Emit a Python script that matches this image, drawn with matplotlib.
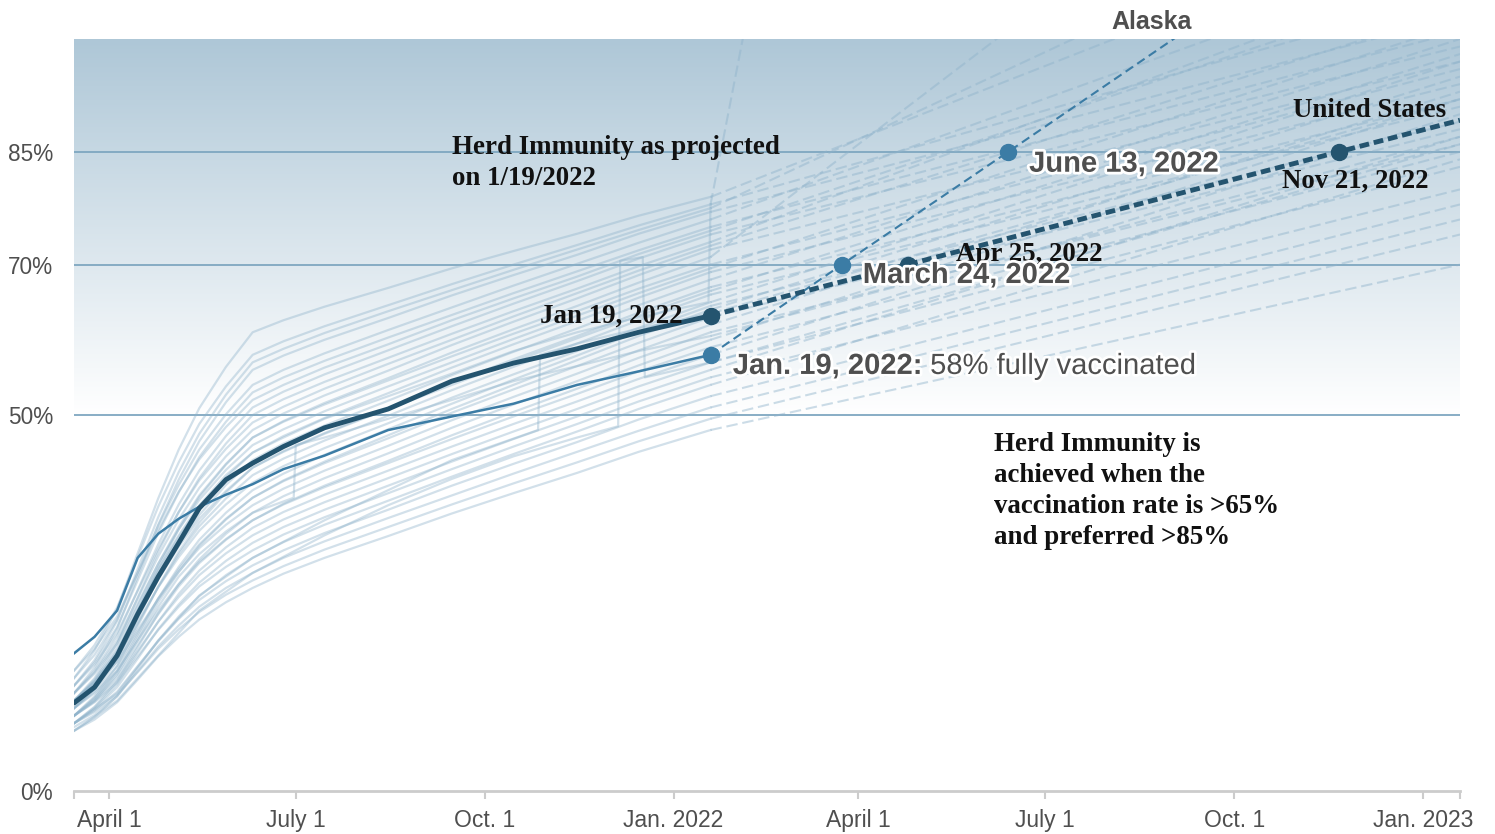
# Vaccination progress by state with linear projections to herd immunity

import numpy as np
import matplotlib.pyplot as plt
import matplotlib.dates as mdates
import matplotlib.patheffects as pe
from matplotlib.colors import LinearSegmentedColormap
from datetime import datetime

plt.rcParams['font.family'] = ['Liberation Sans', 'DejaVu Sans']

# ---- data (percent fully vaccinated) ----
anchor_dates = ["2021-03-15", "2021-03-25", "2021-04-05", "2021-04-15", "2021-04-25",
                "2021-05-05", "2021-05-15", "2021-05-28", "2021-06-10", "2021-06-25",
                "2021-07-15", "2021-08-15", "2021-09-15", "2021-10-15", "2021-11-15",
                "2021-12-15", "2022-01-19"]

us_values = [11.7, 13.8, 18, 23.5, 28.5, 33, 37.6, 41.4, 43.6, 45.8, 48.3, 50.8, 54.5,
             56.9, 58.8, 61, 63.2]
alaska_values = [18.3, 20.5, 24, 31, 34.2, 36.2, 37.8, 39.4, 40.8, 42.8, 44.6, 48,
                 49.8, 51.5, 54, 55.8, 58]

state_curves = [
    [15, 18.7, 24.2, 31.6, 38.9, 45.4, 50.9, 56.4, 61, 62.6, 64.4, 66.9, 69.5, 71.8, 74.1, 76.5, 79],
    [16, 19.4, 24.4, 31.1, 37.8, 43.7, 48.8, 53.8, 58, 59.8, 61.8, 64.6, 67.4, 70, 72.6, 75.2, 78],
    [14, 17.4, 22.6, 29.5, 36.4, 42.4, 47.5, 52.7, 57, 58.8, 60.9, 63.8, 66.6, 69.3, 72, 74.6, 77.5],
    [13, 16.4, 21.6, 28.5, 35.4, 41.4, 46.5, 51.7, 56, 57.9, 60, 62.9, 65.9, 68.6, 71.3, 74.1, 77],
    [15, 18.1, 22.8, 29, 35.3, 40.7, 45.4, 50.1, 54, 56, 58.2, 61.3, 64.3, 67.2, 70.1, 72.9, 76],
    [14, 17.1, 21.8, 28, 34.3, 39.7, 44.4, 49.1, 53, 55, 57.2, 60.3, 63.3, 66.2, 69.1, 71.9, 75],
    [16, 18.9, 23.2, 29, 34.7, 39.8, 44.1, 48.4, 52, 54, 56.3, 59.4, 62.6, 65.5, 68.4, 71.4, 74.5],
    [13, 16, 20.6, 26.7, 32.8, 38.1, 42.6, 47.2, 51, 53.1, 55.4, 58.6, 61.8, 64.8, 67.8, 70.8, 74],
    [12, 15, 19.6, 25.7, 31.8, 37.1, 41.6, 46.2, 50, 52.1, 54.4, 57.6, 60.8, 63.8, 66.8, 69.8, 73],
    [14, 16.8, 21, 26.6, 32.2, 37.1, 41.3, 45.5, 49, 51.1, 53.5, 56.8, 60, 63.1, 66.2, 69.2, 72.5],
    [13, 15.8, 20, 25.6, 31.2, 36.1, 40.3, 44.5, 48, 50.2, 52.6, 55.9, 59.3, 62.4, 65.5, 68.6, 72],
    [12, 14.8, 19, 24.6, 30.2, 35.1, 39.3, 43.5, 47, 49.2, 51.6, 54.9, 58.3, 61.4, 64.5, 67.6, 71],
    [11, 13.9, 18.2, 24, 29.7, 34.8, 39.1, 43.4, 47, 49.1, 51.4, 54.6, 57.8, 60.8, 63.8, 66.8, 70],
    [13, 15.6, 19.6, 24.9, 30.2, 34.8, 38.7, 42.7, 46, 48.1, 50.5, 53.8, 57, 60.1, 63.2, 66.2, 69.5],
    [12, 14.6, 18.6, 23.9, 29.2, 33.8, 37.7, 41.7, 45, 47.2, 49.6, 52.9, 56.3, 59.4, 62.5, 65.6, 69],
    [11, 13.6, 17.6, 22.9, 28.2, 32.8, 36.7, 40.7, 44, 46.2, 48.6, 51.9, 55.3, 58.4, 61.5, 64.6, 68],
    [12, 14.5, 18.2, 23.2, 28.1, 32.5, 36.2, 39.9, 43, 45.2, 47.6, 50.9, 54.3, 57.4, 60.5, 63.6, 67],
    [10, 12.6, 16.6, 21.9, 27.2, 31.8, 35.7, 39.7, 43, 45.1, 47.5, 50.8, 54, 57.1, 60.2, 63.2, 66.5],
    [11, 13.5, 17.2, 22.2, 27.1, 31.5, 35.2, 38.9, 42, 44.2, 46.6, 49.9, 53.3, 56.4, 59.5, 62.6, 66],
    [12, 14.3, 17.8, 22.4, 27.1, 31.1, 34.6, 38.1, 41, 43.2, 45.6, 48.9, 52.3, 55.4, 58.5, 61.6, 65],
    [10, 12.4, 16, 20.8, 25.6, 29.8, 33.4, 37, 40, 42.2, 44.7, 48.1, 51.5, 54.7, 57.9, 61.1, 64.5],
    [11, 13.2, 16.6, 21.1, 25.6, 29.5, 32.8, 36.2, 39, 41.3, 43.8, 47.3, 50.8, 54, 57.3, 60.5, 64],
    [10, 12.3, 15.8, 20.4, 25.1, 29.1, 32.6, 36.1, 39, 41.2, 43.6, 46.9, 50.3, 53.4, 56.5, 59.6, 63],
    [12, 14.1, 17.2, 21.4, 25.5, 29.2, 32.3, 35.4, 38, 40.2, 42.6, 45.9, 49.3, 52.4, 55.5, 58.6, 62],
    [9, 11.2, 14.6, 19.1, 23.6, 27.5, 30.8, 34.2, 37, 39.2, 41.6, 44.9, 48.3, 51.4, 54.5, 57.6, 61],
    [10, 12.1, 15.2, 19.4, 23.5, 27.2, 30.3, 33.4, 36, 38.2, 40.6, 43.9, 47.3, 50.4, 53.5, 56.6, 60],
    [11, 13, 16, 20, 24, 27.5, 30.5, 33.5, 36, 38.1, 40.4, 43.6, 46.8, 49.8, 52.8, 55.8, 59],
    [9, 11.1, 14.2, 18.4, 22.5, 26.2, 29.3, 32.4, 35, 37.1, 39.4, 42.6, 45.8, 48.8, 51.8, 54.8, 58],
    [10, 11.9, 14.8, 18.6, 22.5, 25.8, 28.7, 31.6, 34, 36.1, 38.4, 41.6, 44.8, 47.8, 50.8, 53.8, 57],
    [9, 10.9, 13.8, 17.6, 21.5, 24.8, 27.7, 30.6, 33, 35.1, 37.4, 40.6, 43.8, 46.8, 49.8, 52.8, 56],
    [10, 11.8, 14.4, 17.9, 21.4, 24.5, 27.2, 29.8, 32, 34.1, 36.4, 39.6, 42.8, 45.8, 48.8, 51.8, 55],
    [8, 9.8, 12.6, 16.3, 20, 23.2, 25.9, 28.7, 31, 33.1, 35.4, 38.6, 41.8, 44.8, 47.8, 50.8, 54],
    [9, 10.7, 13.2, 16.6, 19.9, 22.9, 25.4, 27.9, 30, 32, 34.3, 37.4, 40.6, 43.5, 46.4, 49.4, 52.5],
    [8.5, 10.1, 12.6, 15.9, 19.2, 22, 24.5, 27, 29, 31, 33.2, 36.3, 39.3, 42.2, 45.1, 47.9, 51],
    [9, 10.5, 12.8, 15.8, 18.9, 21.5, 23.8, 26.1, 28, 29.9, 32.1, 35.1, 38.1, 40.9, 43.7, 46.5, 49.5],
    [8, 9.5, 11.8, 14.8, 17.9, 20.5, 22.8, 25.1, 27, 28.9, 31, 33.9, 36.9, 39.6, 42.3, 45.1, 48],
]

# projected value on Jan 19, 2023 for each state above
state_proj_end = [118, 106, 124, 103, 112, 101, 108, 99, 110, 104, 97, 147, 96, 102, 94,
                  100, 92, 98, 91, 97, 89, 95, 88, 93, 86, 92, 85, 90, 83, 87, 80, 84,
                  78, 76, 74, 70]

# states whose reported numbers jumped
step_dates = [
    ["2021-03-15", "2021-03-25", "2021-04-05", "2021-04-15", "2021-04-25", "2021-05-05",
     "2021-05-15", "2021-05-28", "2021-06-10", "2021-06-30", "2021-07-01", "2021-07-15",
     "2021-08-15", "2021-09-15", "2021-10-15", "2021-11-15", "2021-12-15", "2022-01-19"],
    ["2021-03-15", "2021-03-25", "2021-04-05", "2021-04-15", "2021-04-25", "2021-05-05",
     "2021-05-15", "2021-05-28", "2021-06-10", "2021-06-25", "2021-07-15", "2021-08-15",
     "2021-09-15", "2021-10-15", "2021-11-15", "2021-12-15", "2022-01-18", "2022-01-19"],
    ["2021-03-15", "2021-04-05", "2021-04-25", "2021-05-15", "2021-06-10", "2021-07-15",
     "2021-08-15", "2021-09-15", "2021-10-27", "2021-10-28", "2021-11-15", "2021-12-15",
     "2022-01-19"],
    ["2021-03-15", "2021-04-05", "2021-04-25", "2021-05-15", "2021-06-10", "2021-07-15",
     "2021-08-15", "2021-09-15", "2021-10-15", "2021-11-15", "2021-12-05", "2021-12-06",
     "2021-12-17", "2021-12-18", "2022-01-19"],
]
step_values = [
    [10, 12, 15.5, 20, 24.5, 28.5, 31.5, 34.5, 37, 39, 46, 47, 49.5, 52, 54.5, 56.5, 58.5, 60.5],
    [12, 14.5, 18.5, 24, 29.5, 34, 38, 42, 45, 47, 49.5, 52.5, 55.5, 58.5, 61, 63, 65, 78],
    [9, 13, 20, 26, 31, 36, 40, 44, 48, 58, 59.5, 61.5, 63.5],
    [8, 12, 18, 24, 29, 34, 38, 41.5, 44.5, 47, 48.5, 70.5, 71, 55, 57],
]
step_proj_end = [87, 590, 92, 86]

proj_end_date = "2023-01-19"
us_proj_dates = ["2022-01-19", "2022-04-25", "2022-11-21", "2023-01-19"]
us_proj_values = [63.2, 70, 85, 89.2]
alaska_proj_dates = ["2022-01-19", "2022-03-24", "2022-06-13", "2023-01-19"]
alaska_proj_values = [58, 70, 85, 126]

herd_levels = [50, 70, 85]
y_ticks = [0, 50, 70, 85]
x_tick_dates = ["2021-03-15", "2021-04-01", "2021-07-01", "2021-10-01", "2022-01-01",
                "2022-04-01", "2022-07-01", "2022-10-01", "2023-01-01", "2023-01-19"]
x_tick_labels = ["", "April 1", "July 1", "Oct. 1", "Jan. 2022",
                 "April 1", "July 1", "Oct. 1", "Jan. 2023", ""]


def d(s):
    return datetime.strptime(s, "%Y-%m-%d")


def ds(lst):
    return [d(s) for s in lst]


# ---- colours ----
dark = '#24546f'
mid = '#3b7ca5'
light = '#8fb3cb'
grid_col = '#7fa7c0'
gray = '#4f4f4f'

fig = plt.figure(figsize=(14.95, 8.34), dpi=100)
ax = fig.add_axes([74 / 1495, 1 - 791 / 834, (1460 - 74) / 1495, (791 - 39) / 834])

x0, x1 = d("2021-03-15"), d("2023-01-19")

# background gradient above 50%
cmap = LinearSegmentedColormap.from_list('bg', ['#ffffff', '#aec7d7'])
grad = np.linspace(0, 1, 256).reshape(-1, 1)
ax.imshow(grad, extent=[mdates.date2num(x0), mdates.date2num(x1), 50, 100],
          origin='lower', aspect='auto', cmap=cmap, zorder=0)

for lvl in herd_levels:
    ax.axhline(lvl, color=grid_col, lw=1.3, zorder=1)

# state lines
for vals, end in zip(state_curves, state_proj_end):
    ax.plot(ds(anchor_dates), vals, color=light, lw=1.6, alpha=0.4, zorder=2)
    ax.plot([d(anchor_dates[-1]), d(proj_end_date)], [vals[-1], end], color=light,
            lw=1.5, alpha=0.45, dashes=(5.5, 2.3), zorder=2)

for dts, vals, end in zip(step_dates, step_values, step_proj_end):
    ax.plot(ds(dts), vals, color=light, lw=1.6, alpha=0.4, zorder=2)
    ax.plot([d(dts[-1]), d(proj_end_date)], [vals[-1], end], color=light,
            lw=1.5, alpha=0.45, dashes=(5.5, 2.3), zorder=2)

# Alaska
ax.plot(ds(anchor_dates), alaska_values, color=mid, lw=1.8, zorder=4)
ax.plot(ds(alaska_proj_dates), alaska_proj_values, color=mid, lw=1.5,
        dashes=(4.3, 2.4), zorder=4)
ax.plot(ds(alaska_proj_dates[:3]), alaska_proj_values[:3], 'o', color=mid,
        markersize=11.5, zorder=6)

# United States
ax.plot(ds(anchor_dates), us_values, color=dark, lw=3.5, zorder=5,
        solid_capstyle='round', solid_joinstyle='round')
ax.plot(ds(us_proj_dates), us_proj_values, color=dark, lw=3.5, dashes=(2, 1), zorder=5)
ax.plot(ds(us_proj_dates[:3]), us_proj_values[:3], 'o', color=dark,
        markersize=11.5, zorder=6)

ax.set_xlim(x0, x1)
ax.set_ylim(0, 100)

# axes styling
for s in ['top', 'right', 'left']:
    ax.spines[s].set_visible(False)
ax.spines['bottom'].set_color('#cccccc')
ax.spines['bottom'].set_linewidth(2)
ax.set_yticks(y_ticks)
ax.set_yticklabels([f"{v}%" for v in y_ticks])
ax.tick_params(axis='y', length=0, pad=15, labelsize=16.3, labelcolor=gray)
ax.set_xticks(ds(x_tick_dates))
ax.set_xticklabels(x_tick_labels)
ax.tick_params(axis='x', length=6, width=1.5, color='#cccccc', pad=7,
               labelsize=16.5, labelcolor=gray)

# ---- annotations ----
serif = dict(family=['Liberation Serif', 'DejaVu Serif'], fontweight='bold',
             color='#111111', fontsize=19.4)
halo = [pe.withStroke(linewidth=4, foreground='white')]

ax.text(d("2021-09-15"), 83.5, "Herd Immunity as projected\non 1/19/2022",
        ha='left', va='center', linespacing=1.28, zorder=7, **serif)
ax.text(d("2022-06-06"), 39.9,
        "Herd Immunity is\nachieved when the\nvaccination rate is >65%\nand preferred >85%",
        ha='left', va='center', linespacing=1.32, zorder=7, **serif)

ax.annotate("Jan 19, 2022", xy=(d(us_proj_dates[0]), us_proj_values[0]),
            xytext=(-20, 0), textcoords='offset points', ha='right', va='center',
            zorder=7, **serif)
ax.annotate("Apr 25, 2022", xy=(d(us_proj_dates[1]), us_proj_values[1]),
            xytext=(34.5, 7), textcoords='offset points', ha='left', va='center',
            zorder=7, **serif)
ax.annotate("Nov 21, 2022", xy=(d(us_proj_dates[2]), us_proj_values[2]),
            xytext=(11.5, -21), textcoords='offset points', ha='center', va='center',
            zorder=7, **serif)
ax.annotate("United States", xy=(d(us_proj_dates[2]), us_proj_values[2]),
            xytext=(22, 30), textcoords='offset points', ha='center', va='center',
            zorder=7, **serif)

sans_bold = dict(fontsize=21, fontweight='bold', color=gray, path_effects=halo)
ax.annotate("June 13, 2022", xy=(d(alaska_proj_dates[2]), alaska_proj_values[2]),
            xytext=(15, -8.6), textcoords='offset points', ha='left', va='center',
            zorder=8, **sans_bold)
ax.annotate("March 24, 2022", xy=(d(alaska_proj_dates[1]), alaska_proj_values[1]),
            xytext=(15, -7.5), textcoords='offset points', ha='left', va='center',
            zorder=8, **sans_bold)
t1 = ax.annotate("Jan. 19, 2022:", xy=(d(alaska_proj_dates[0]), alaska_proj_values[0]),
                 xytext=(16, -8), textcoords='offset points', ha='left', va='center',
                 zorder=8, **sans_bold)
ax.annotate(" 58% fully vaccinated", xy=(1, 0.5), xycoords=t1, ha='left', va='center',
            fontsize=21, color=gray, path_effects=halo, zorder=8)

ax.text(d("2022-08-22"), 102.2, "Alaska", ha='center', va='center', fontsize=18,
        fontweight='bold', color=gray, clip_on=False)

fig.savefig("out.png", dpi=100)
